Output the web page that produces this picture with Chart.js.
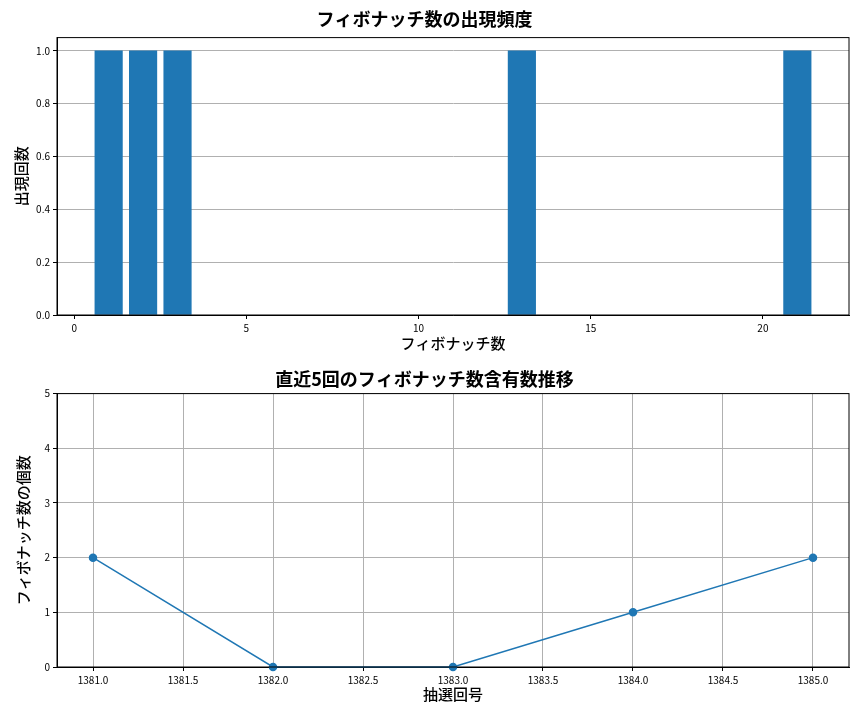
<!DOCTYPE html>
<html><head><meta charset="utf-8">
<script src="https://cdn.jsdelivr.net/npm/chart.js@4/dist/chart.umd.min.js"></script>
<style>body{margin:0;background:#fff;width:864px;height:720px;overflow:hidden}
.c{position:absolute;left:0;width:864px;height:360px}</style></head>
<body>
<div class="c" style="top:0"><canvas id="a"></canvas></div>
<div class="c" style="top:360px"><canvas id="b"></canvas></div>
<script>
const fibNumbers=[1,2,3,13,21];
const fibCounts=[1,1,1,1,1];
const topXTicks=[0,5,10,15,20];
const topYTicks=[0,0.2,0.4,0.6,0.8,1.0];
const draws=[1381,1382,1383,1384,1385];
const drawCounts=[2,0,0,1,2];
const botXTicks=[1381,1381.5,1382,1382.5,1383,1383.5,1384,1384.5,1385];
const botYTicks=[0,1,2,3,4,5];
const F='"Noto Sans CJK JP","Noto Sans",sans-serif';
const blue='#1f77b4',grid='#b0b0b0';
Chart.defaults.font.family=F;Chart.defaults.color='#000';Chart.defaults.animation=false;
const box={id:'box',afterDraw(c){const a=c.chartArea,x=c.ctx;x.save();x.strokeStyle='#000';x.lineWidth=1;x.strokeRect(a.left,a.top,a.right-a.left,a.bottom-a.top);x.restore();}};
function fix(arr){return s=>{s.ticks=arr.map(v=>({value:v}));};}
const tf={size:15,weight:'500'};
new Chart(document.getElementById('a'),{type:'bar',
data:{datasets:[{data:fibNumbers.map((v,i)=>({x:v,y:fibCounts[i]})),backgroundColor:blue,barThickness:27.5}]},
plugins:[box],
options:{responsive:true,maintainAspectRatio:false,layout:{padding:{right:15,left:0,bottom:8}},
plugins:{legend:{display:false},tooltip:{enabled:false},title:{display:true,text:'フィボナッチ数の出現頻度',font:{size:18,weight:'bold'},padding:{top:8,bottom:8}}},
scales:{x:{type:'linear',offset:false,min:-0.5,max:22.5,afterBuildTicks:fix(topXTicks),afterFit:s=>{s.height=37},
grid:{offset:false,drawOnChartArea:false,color:'#000',tickLength:4},border:{color:'#000'},ticks:{font:{size:10},maxRotation:0},
title:{display:true,text:'フィボナッチ数',font:tf,padding:0}},
y:{min:0,max:1.05,afterBuildTicks:fix(topYTicks),afterFit:s=>{s.width=57},
grid:{color:grid,tickColor:'#000',tickLength:4},border:{color:'#000'},ticks:{font:{size:10},callback:v=>v.toFixed(1)},
title:{display:true,text:'出現回数',font:tf,padding:{top:12,bottom:0}}}}}});
new Chart(document.getElementById('b'),{type:'line',
data:{datasets:[{data:draws.map((v,i)=>({x:v,y:drawCounts[i]})),borderColor:blue,backgroundColor:blue,borderWidth:1.5,pointRadius:3.5,tension:0}]},
plugins:[box],
options:{responsive:true,maintainAspectRatio:false,layout:{padding:{right:15,left:0,bottom:17}},clip:false,
plugins:{legend:{display:false},tooltip:{enabled:false},title:{display:true,text:'直近5回のフィボナッチ数含有数推移',font:{size:18,weight:'bold'},padding:{top:8,bottom:4}}},
scales:{x:{type:'linear',min:1380.8,max:1385.2,afterBuildTicks:fix(botXTicks),afterFit:s=>{s.height=36},
grid:{color:grid,tickColor:'#000',tickLength:4},border:{color:'#000'},ticks:{font:{size:10},maxRotation:0,callback:v=>v.toFixed(1)},
title:{display:true,text:'抽選回号',font:tf,padding:0}},
y:{min:0,max:5,afterBuildTicks:fix(botYTicks),afterFit:s=>{s.width=57},
grid:{color:grid,tickColor:'#000',tickLength:4},border:{color:'#000'},ticks:{font:{size:10}},
title:{display:true,text:'フィボナッチ数の個数',font:tf,padding:{top:14,bottom:0}}}}}});
</script></body></html>
